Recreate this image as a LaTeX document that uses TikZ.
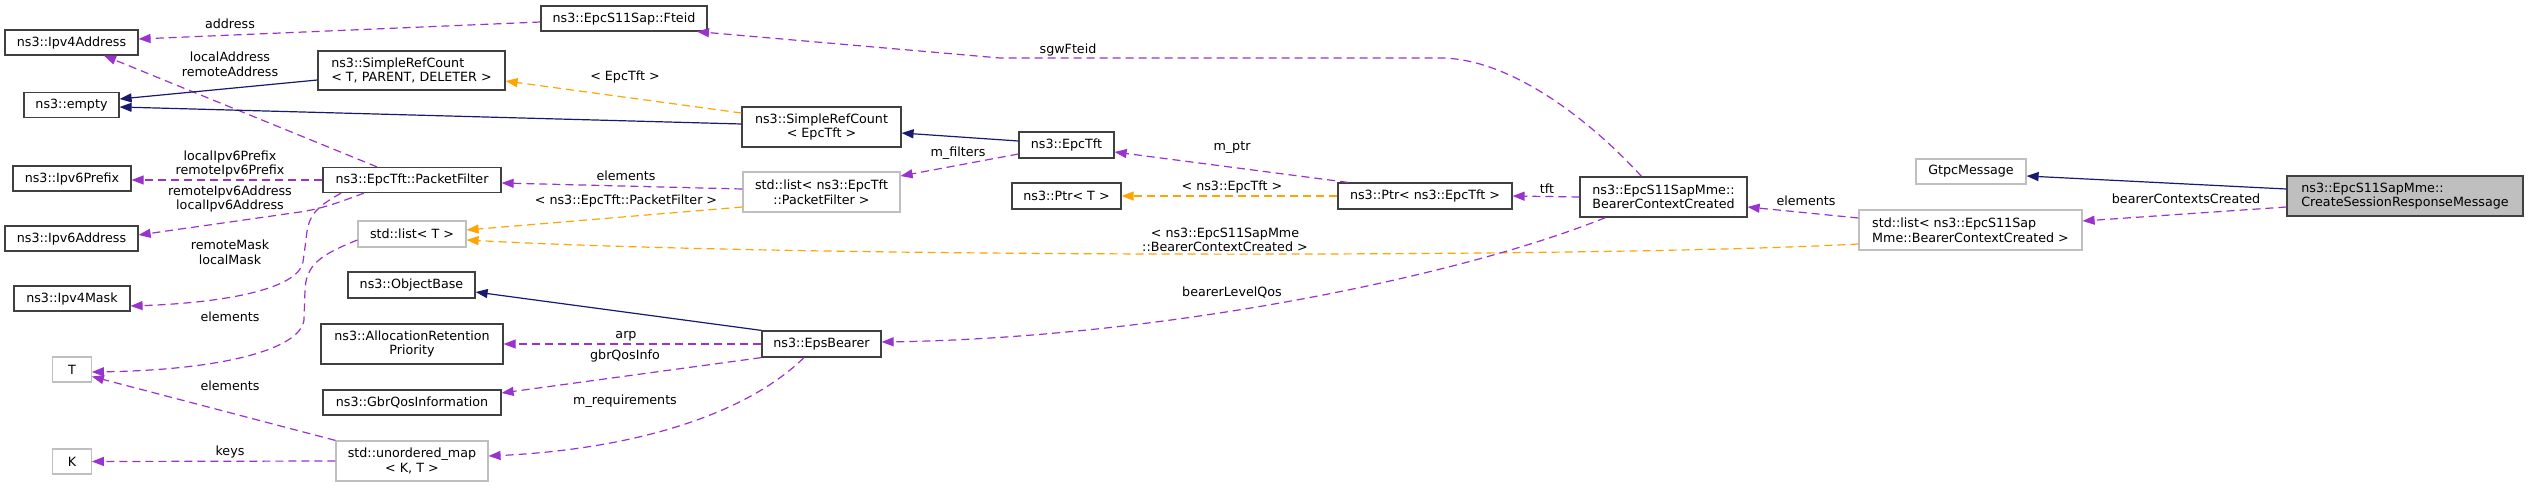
\documentclass[tikz,border=0pt]{standalone}
\usepackage{fontspec}
\setmainfont{DejaVu Sans}
\usetikzlibrary{arrows.meta,calc}
\definecolor{dpurple}{HTML}{9A32CD}
\definecolor{dorange}{HTML}{FFA500}
\definecolor{dnavy}{HTML}{191970}
\definecolor{dgrey}{HTML}{404040}
\definecolor{lgrey}{HTML}{BFBFBF}
\begin{document}
\begin{tikzpicture}[x=1pt,y=-1pt,
 font=\fontsize{12.7}{14.7}\selectfont,
 cls/.style={draw=dgrey,fill=white,line width=1.2pt,inner sep=0pt,align=center,minimum height=25},
 ucls/.style={cls,draw=lgrey},
 mcls/.style={cls,fill=lgrey},
 lbl/.style={inner sep=0pt,align=center},
 use/.style={draw=dpurple,line width=1.2pt,dash pattern=on 8pt off 5pt,-{Triangle[length=12pt,width=9pt,fill=dpurple]}},
 tmpl/.style={draw=dorange,line width=1.2pt,dash pattern=on 8pt off 5pt,-{Triangle[length=12pt,width=9pt,fill=dorange]}},
 inh/.style={draw=dnavy,line width=1.2pt,-{Triangle[length=12pt,width=9pt,fill=dnavy]}},
]
\fill[white] (0,0) rectangle (2528,487);
\useasboundingbox (0,0) rectangle (2528,487);

% nodes
\node[cls,minimum width=133] (ipvfour) at (71.5,42.5) {ns3::Ipv4Address};
\node[cls,minimum width=95] (empty) at (71.5,105) {ns3::empty};
\node[cls,minimum width=187,minimum height=39,align=left] (srcT) at (411.5,70.5) {ns3::SimpleRefCount\\< T, PARENT, DELETER >};
\node[cls,minimum width=118] (ipvsixp) at (72,178.5) {ns3::Ipv6Prefix};
\node[cls,minimum width=178] (pf) at (412,180) {ns3::EpcTft::PacketFilter};
\node[cls,minimum width=133] (ipvsixa) at (71.5,238.5) {ns3::Ipv6Address};
\node[ucls,minimum width=108,minimum height=26] (listT) at (412,234) {std::list< T >};
\node[cls,minimum width=116] (ipvfourm) at (72,298.5) {ns3::Ipv4Mask};
\node[ucls,minimum width=38.5] (T) at (72,369.5) {T};
\node[ucls,minimum width=38.5] (K) at (72,461.5) {K};
\node[cls,minimum width=127,minimum height=26] (objb) at (411.5,285) {ns3::ObjectBase};
\node[cls,minimum width=182,minimum height=40] (arp) at (412,344) {ns3::AllocationRetention\\Priority};
\node[cls,minimum width=178] (gbr) at (412,402.5) {ns3::GbrQosInformation};
\node[ucls,minimum width=152,minimum height=40] (umap) at (412,461) {std::unordered\_map\\< K, T >};
\node[cls,minimum width=166] (fteid) at (624,18.5) {ns3::EpcS11Sap::Fteid};
\node[cls,minimum width=159,minimum height=40] (srcE) at (821.5,127) {ns3::SimpleRefCount\\< EpcTft >};
\node[ucls,minimum width=157,minimum height=40] (listPF) at (821.5,192) {std::list< ns3::EpcTft\\::PacketFilter >};
\node[cls,minimum width=119,minimum height=26] (epsb) at (821.5,344) {ns3::EpsBearer};
\node[cls,minimum width=95,minimum height=26] (epctft) at (1066.5,145) {ns3::EpcTft};
\node[cls,minimum width=109,minimum height=26] (ptrT) at (1066.5,196) {ns3::Ptr< T >};
\node[cls,minimum width=174,minimum height=26] (ptrE) at (1425,196) {ns3::Ptr< ns3::EpcTft >};
\node[cls,minimum width=167,minimum height=40,align=left] (bcc) at (1663.5,197) {ns3::EpcS11SapMme::\\BearerContextCreated};
\node[ucls,minimum width=110] (gtpc) at (1971,171.5) {GtpcMessage};
\node[mcls,minimum width=236,minimum height=40,align=left] (csr) at (2405,196) {ns3::EpcS11SapMme::\\CreateSessionResponseMessage};
\node[ucls,minimum width=223,minimum height=40,align=left] (listB) at (1970.5,230) {std::list< ns3::EpcS11Sap\\Mme::BearerContextCreated >};

% labels
\node[lbl] (la) at (230,24) {address};
\node[lbl] (lb) at (230,64) {localAddress\\remoteAddress};
\node[lbl] (lc) at (625,77) {< EpcTft >};
\node[lbl] (ld) at (1068,50) {sgwFteid};
\node[lbl] (le) at (958,153) {m\_filters};
\node[lbl] (lf) at (626,176) {elements};
\node[lbl] (lg) at (626,201) {< ns3::EpcTft::PacketFilter >};
\node[lbl] (lh) at (1232,148) {m\_ptr};
\node[lbl] (li) at (1232,187) {< ns3::EpcTft >};
\node[lbl] (lj) at (1547,189) {tft};
\node[lbl] (lk) at (1225,240) {< ns3::EpcS11SapMme\\::BearerContextCreated >};
\node[lbl] (ll) at (1232,292) {bearerLevelQos};
\node[lbl] (lm) at (1806,201) {elements};
\node[lbl] (ln) at (2186,199) {bearerContextsCreated};
\node[lbl] (lo) at (230,164) {localIpv6Prefix\\remoteIpv6Prefix};
\node[lbl] (lp) at (230,199) {remoteIpv6Address\\localIpv6Address};
\node[lbl] (lq) at (230,252) {remoteMask\\localMask};
\node[lbl] (lr) at (230,317) {elements};
\node[lbl] (ls) at (230,386) {elements};
\node[lbl] (lt) at (230,452) {keys};
\node[lbl] (lu) at (626,336) {arp};
\node[lbl] (lv) at (625,356) {gbrQosInfo};
\node[lbl] (lw) at (625,401) {m\_requirements};

% edges
\draw[use] ($(fteid.west)+(0,3.5)$) -- ($(ipvfour.east)+(0,-3.5)$);
\draw[use] ($(pf.north)+(-35,0)$) -- ($(ipvfour.south)+(32.5,0)$);
\draw[inh] ($(srcT.west)+(0,9.5)$) -- ($(empty.east)+(0,-6)$);
\draw[inh] ($(srcE.west)+(0,-3)$) -- ($(empty.east)+(0,2)$);
\draw[tmpl] ($(srcE.west)+(0,-14)$) -- ($(srcT.east)+(0,10.5)$);
\draw[inh] ($(epctft.west)+(0,-4)$) -- ($(srcE.east)+(0,6)$);
\draw[use] ($(epctft.west)+(0,9)$) -- ($(listPF.east)+(0,-16)$);
\draw[use] ($(listPF.west)+(0,-3)$) -- ($(pf.east)+(0,3)$);
\draw[tmpl] ($(listPF.west)+(0,15)$) -- ($(listT.east)+(0,-4)$);
\draw[tmpl] ($(listB.west)+(0,14)$) .. controls (1600,258) and (800,258) .. ($(listT.east)+(0,6)$);
\draw[use] ($(ptrE.north)+(-77,0)$) -- ($(epctft.east)+(0,7)$);
\draw[tmpl] (ptrE.west) -- (ptrT.east);
\draw[use] (bcc.west) -- (ptrE.east);
\draw[use] ($(bcc.north)+(-22,0)$) .. controls (1590,120) and (1510,58) .. (1440,58) -- (1000,58) -- ($(fteid.south)+(73,0)$);
\draw[use] ($(bcc.south)+(-58,0)$) .. controls (1450,280) and (1150,338) .. ($(epsb.east)+(0,-2)$);
\draw[use] ($(listB.west)+(0,-12)$) -- ($(bcc.east)+(0,10)$);
\draw[inh] ($(csr.west)+(0,-7)$) -- ($(gtpc.east)+(0,4.5)$);
\draw[use] ($(csr.west)+(0,11)$) -- ($(listB.east)+(0,-9)$);
\draw[inh] (epsb.north west) -- ($(objb.east)+(0,7)$);
\draw[use] (epsb.west) -- (arp.east);
\draw[use] (epsb.south west) -- ($(gbr.east)+(0,-9.5)$);
\draw[use] ($(epsb.south)+(-17.5,0)$) .. controls (740,420) and (620,450) .. ($(umap.east)+(0,-5)$);
\draw[use] (pf.west) -- ($(ipvsixp.east)+(0,1.5)$);
\draw[use] ($(pf.south)+(-48,0)$) .. controls (335,204) and (320,209) .. (300,212) -- ($(ipvsixa.east)+(0,-3.5)$);
\draw[use] ($(pf.south)+(-71,0)$) .. controls (315,208) and (308,215) .. (306,240) -- (303,262) .. controls (298,290) and (220,303) .. ($(ipvfourm.east)+(0,7.5)$);
\draw[use] ($(listT.west)+(0,6)$) .. controls (320,255) and (306,265) .. (305,290) -- (304,320) .. controls (300,350) and (220,370) .. ($(T.east)+(0,2.5)$);
\draw[use] (umap.north west) -- ($(T.east)+(0,7)$);
\draw[use] (umap.west) -- (K.east);
\end{tikzpicture}
\end{document}
